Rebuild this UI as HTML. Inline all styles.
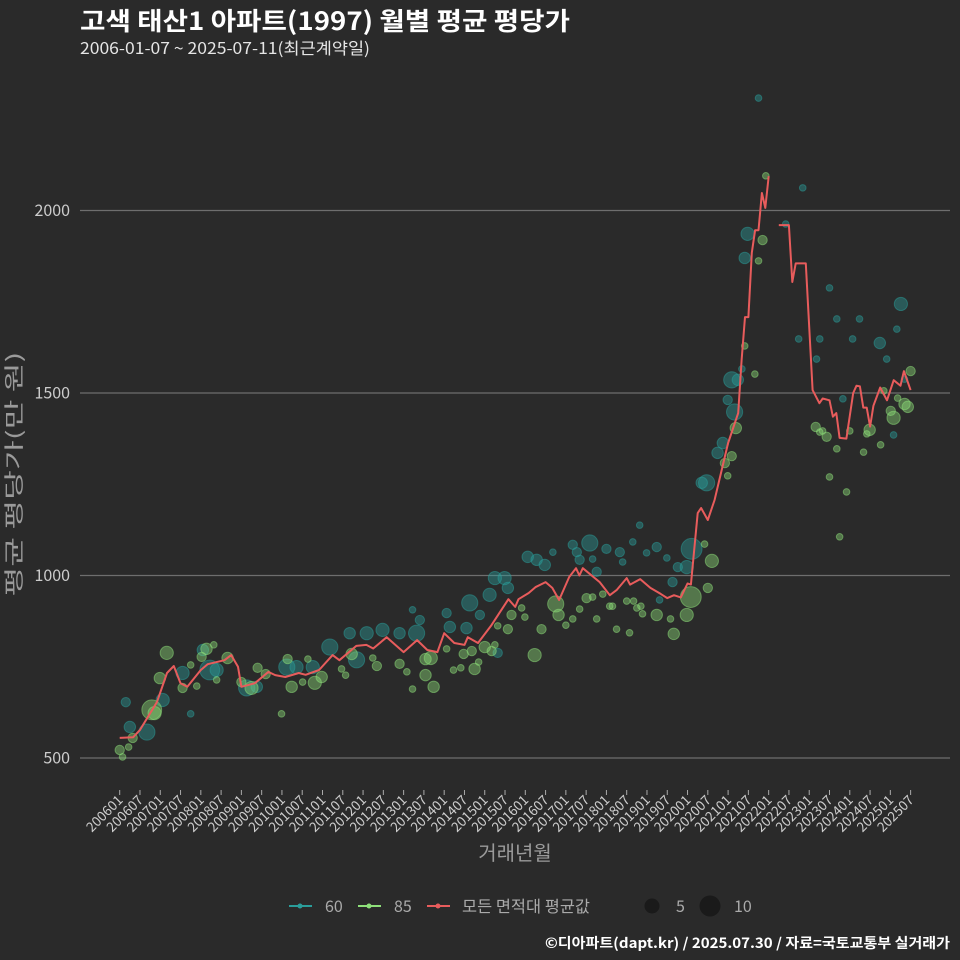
<!DOCTYPE html>
<html><head><meta charset="utf-8">
<style>
html,body{margin:0;padding:0;background:#2a2a2a;}
svg{display:block;font-family:"Noto Sans CJK KR","Liberation Sans",sans-serif;}
</style></head>
<body>
<svg id="chart" width="960" height="960" viewBox="0 0 960 960">
<rect x="0" y="0" width="960" height="960" fill="#2a2a2a"/>
<text x="80" y="30" fill="#ffffff" font-size="25" font-weight="bold" textLength="490" lengthAdjust="spacingAndGlyphs">고색 태산1 아파트(1997) 월별 평균 평당가</text>
<text x="80" y="54" fill="#e6e6e6" font-size="16" textLength="290" lengthAdjust="spacingAndGlyphs">2006-01-07 ~ 2025-07-11(최근계약일)</text>
<g id="grid"></g>
<g id="yaxis"></g>
<g id="xaxis"></g>
<g id="bubbles60"></g>
<g id="bubbles85"></g>
<g id="avgline"></g>
<text transform="translate(21,474) rotate(-90)" text-anchor="middle" fill="#9a9a9a" font-size="20" textLength="245" lengthAdjust="spacingAndGlyphs">평균 평당가(만 원)</text>
<text x="515" y="860" text-anchor="middle" fill="#9a9a9a" font-size="20">거래년월</text>
<g>
  <g>
    <line x1="289" y1="906" x2="312" y2="906" stroke="#2a9d9a" stroke-width="2"/>
    <circle cx="300" cy="906" r="2.5" fill="#2a9d9a"/>
    <text x="325" y="912" fill="#aaaaaa" font-size="16">60</text>
  </g>
  <g>
    <line x1="358" y1="906" x2="381" y2="906" stroke="#8ee07a" stroke-width="2"/>
    <circle cx="369" cy="906" r="2.5" fill="#8ee07a"/>
    <text x="394" y="912" fill="#aaaaaa" font-size="16">85</text>
  </g>
  <g>
    <line x1="427" y1="906" x2="450" y2="906" stroke="#e85c5c" stroke-width="2"/>
    <circle cx="438" cy="906" r="2.5" fill="#e85c5c"/>
    <text x="462" y="912" fill="#aaaaaa" font-size="16" textLength="128" lengthAdjust="spacingAndGlyphs">모든 면적대 평균값</text>
  </g>
  <g>
    <circle cx="652" cy="906" r="7.5" fill="#1a1a1a"/>
    <text x="676" y="912" fill="#aaaaaa" font-size="16">5</text>
  </g>
  <g>
    <circle cx="710" cy="906" r="10.5" fill="#1a1a1a"/>
    <text x="734" y="912" fill="#aaaaaa" font-size="16">10</text>
  </g>
</g>
<text x="545" y="948" fill="#ffffff" font-size="14" font-weight="bold" textLength="405" lengthAdjust="spacingAndGlyphs">©디아파트(dapt.kr) / 2025.07.30 / 자료=국토교통부 실거래가</text>
</svg>
<script>
const yTicks = [500, 1000, 1500, 2000];
const xTickLabels = [];
for (let y = 2006; y <= 2025; y++) { xTickLabels.push(y + "01"); xTickLabels.push(y + "07"); }

const lineMonths = ["2006-01","2006-05","2006-07","2006-12","2007-03","2007-05","2007-07","2007-09","2008-01","2008-03","2008-08","2008-10","2008-12","2009-01","2009-05","2009-09","2009-11","2010-02","2010-06","2010-08","2010-12","2011-04","2011-06","2011-11","2012-02","2012-04","2012-08","2013-01","2013-05","2013-08","2013-11","2014-01","2014-04","2014-07","2014-08","2014-11","2015-03","2015-08","2015-10","2015-11","2016-02","2016-04","2016-07","2016-09","2016-11","2017-02","2017-04","2017-05","2017-06","2017-11","2018-02","2018-04","2018-07","2018-08","2018-11","2019-02","2019-05","2019-07","2019-09","2019-11","2020-01","2020-02","2020-04","2020-05","2020-07","2020-09","2021-01","2021-04","2021-05","2021-06","2021-07","2021-08","2021-09","2021-10","2021-11","2021-12","2022-01","2022-02","2022-04","2022-07","2022-08","2022-09","2022-12","2023-02","2023-04","2023-05","2023-07","2023-08","2023-09","2023-10","2023-12","2024-02","2024-03","2024-04","2024-05","2024-06","2024-07","2024-08","2024-10","2024-12","2025-02","2025-04","2025-05","2025-07"];
const lineValues = [555,557,577,653,733,752,705,695,741,757,768,782,750,695,705,736,727,722,733,728,741,782,768,807,810,800,831,790,823,796,790,842,815,810,831,815,864,935,914,935,952,968,982,966,933,996,1020,1000,1020,982,946,960,993,975,990,966,950,938,946,940,978,975,1171,1185,1152,1207,1363,1445,1590,1708,1708,1884,1946,1946,2048,2007,2094,null,1960,1960,1804,1855,1855,1508,1472,1485,1480,1435,1445,1377,1375,1500,1520,1518,1460,1460,1408,1465,1515,1480,1535,1520,1560,1508];

const t60 = [2006.15,2006.25,2006.67,2007.06,2007.55,2008.05,2008.22,2008.39,2009.13,2009.38,2010.12,2010.36,2010.76,2011.18,2011.67,2011.84,2012.09,2012.48,2012.9,2013.32,2013.22,2007.75,2013.4,2014.06,2014.14,2014.55,2014.63,2014.88,2015.12,2015.25,2015.49,2015.57,2015.32,2016.06,2016.28,2016.48,2016.68,2017.17,2017.27,2017.34,2017.59,2017.66,2017.76,2018.0,2018.33,2018.4,2018.65,2018.82,2018.99,2019.24,2019.31,2019.49,2019.63,2019.76,2019.98,2020.1,2020.35,2020.47,2020.74,2020.87,2020.99,2021.16,2021.09,2021.24,2021.34,2021.41,2021.48,2021.75,2022.42,2022.84,2022.74,2023.18,2023.26,2023.5,2023.68,2023.83,2024.07,2024.24,2024.74,2024.91,2025.16,2025.26,2025.35,2025.08];
const v60 = [653,585,571,659,733,796,741,741,692,695,749,749,749,804,842,769,842,851,842,842,906,621,878,897,859,856,925,892,947,993,993,966,788,1051,1043,1029,1064,1084,1064,1043,1089,1045,1010,1073,1064,1037,1092,1138,1062,1078,933,1048,982,1023,1023,1073,1254,1254,1336,1363,1481,1448,1536,1536,1566,1870,1936,2308,1963,2062,1648,1593,1648,1788,1703,1484,1648,1703,1637,1593,1675,1744,1538,1385];
const n60 = [2,3,6,4,4,3,9,4,6,3,6,4,4,6,3,6,4,4,3,6,1,1,2,2,3,3,6,2,4,4,4,3,2,3,3,3,1,2,2,2,6,1,2,2,2,1,1,1,1,2,1,1,2,2,4,10,3,6,3,3,2,6,6,3,1,3,4,1,1,1,1,1,1,1,1,1,1,1,3,1,1,4,1,1];

const t85 = [2006.0,2006.07,2006.22,2006.32,2006.79,2006.86,2006.99,2007.16,2007.55,2007.75,2007.9,2008.02,2008.14,2008.32,2008.39,2008.66,2009.0,2009.25,2009.4,2009.6,2009.99,2010.14,2010.24,2010.51,2010.64,2010.81,2010.98,2011.47,2011.57,2011.72,2012.24,2012.34,2012.9,2013.08,2013.22,2013.54,2013.54,2013.67,2013.74,2014.06,2014.23,2014.41,2014.48,2014.68,2014.75,2014.85,2015.0,2015.17,2015.25,2015.32,2015.57,2015.66,2015.91,2015.99,2016.23,2016.4,2016.75,2016.82,2017.0,2017.17,2017.34,2017.51,2017.66,2017.76,2017.91,2018.08,2018.15,2018.25,2018.5,2018.57,2018.67,2018.75,2018.85,2018.89,2019.24,2019.58,2019.66,2019.98,2020.08,2020.42,2020.5,2020.6,2020.92,2020.99,2021.09,2021.19,2021.41,2021.66,2021.75,2021.85,2021.93,2023.16,2023.26,2023.33,2023.43,2023.68,2023.5,2023.75,2023.92,2024.0,2024.34,2024.42,2024.49,2024.76,2024.84,2025.01,2025.08,2025.18,2025.35,2025.43,2025.5];
const v85 = [522,503,530,555,632,623,719,788,692,755,697,777,799,810,714,774,708,692,747,730,621,771,695,708,771,706,722,744,727,785,774,752,758,736,689,771,727,774,695,799,741,747,785,793,744,763,804,793,810,862,853,892,911,886,782,853,922,892,864,881,908,938,941,881,949,916,916,853,930,843,930,911,916,895,892,881,840,892,941,1086,966,1040,1308,1273,1327,1404,1629,1552,1862,1919,2095,1407,1393,1396,1380,1347,1270,1106,1229,1396,1338,1388,1399,1358,1506,1451,1432,1486,1470,1462,1560];
const n85 = [2,1,1,2,9,4,3,4,2,1,1,2,3,1,1,3,2,4,2,2,1,2,3,1,1,4,3,1,1,3,1,2,2,1,1,3,3,4,3,1,1,1,2,2,3,1,3,2,1,1,2,2,1,1,4,2,6,3,1,1,1,2,1,1,1,1,1,1,1,1,1,1,1,1,3,1,3,4,10,1,2,4,2,1,2,3,1,1,1,2,1,2,1,1,2,1,1,1,1,1,1,1,3,1,1,2,4,1,3,3,2];

const NS = "http://www.w3.org/2000/svg";
const X0 = 119.7, PX_PER_YEAR = 40.56, PLOT_L = 80, PLOT_R = 950;
function xScale(t) { return X0 + (t - 2006) * PX_PER_YEAR; }
function yScale(v) { return 758 - (v - 500) * 0.365; }
function monthToT(s) { const p = s.split("-"); return +p[0] + (+p[1] - 1) / 12; }
function rScale(n) { return 3.3 * Math.sqrt(n); }
function mk(tag, attrs, parent) {
  const el = document.createElementNS(NS, tag);
  for (const k in attrs) el.setAttribute(k, attrs[k]);
  parent.appendChild(el);
  return el;
}

const grid = document.getElementById("grid");
const yaxis = document.getElementById("yaxis");
yTicks.forEach(v => {
  const ln = mk("line", {x1: PLOT_L, x2: PLOT_R, y1: yScale(v), y2: yScale(v), stroke: "#6e6e6e", "stroke-width": 1.2}, grid);
  
  
  const tx = mk("text", {x: 70, y: yScale(v) + 5.5, "text-anchor": "end", fill: "#cccccc", "font-size": 16}, yaxis);
  tx.textContent = v;
  
  
});

const xaxis = document.getElementById("xaxis");
xTickLabels.forEach(lbl => {
  const t = +lbl.slice(0, 4) + (+lbl.slice(4) - 1) / 12;
  const x = xScale(t);
  const tk = mk("line", {x1: x, x2: x, y1: 790, y2: 795, stroke: "#aaaaaa", "stroke-width": 1}, xaxis);
  
  
  const tx = mk("text", {x: 0, y: 0, "text-anchor": "end", fill: "#cccccc", "font-size": 13.5,
    transform: "translate(" + (x + 4) + ",801) rotate(-45)"}, xaxis);
  tx.textContent = lbl;
  
  
});

function drawBubbles(gid, ts, vs, ns, col, name) {
  const g = document.getElementById(gid);
  ts.forEach((t, i) => {
    const c = mk("circle", {cx: xScale(t), cy: yScale(vs[i]), r: rScale(ns[i]), fill: col, "fill-opacity": 0.42, stroke: col, "stroke-opacity": 0.5, "stroke-width": 1}, g);
    
    
  });
}
drawBubbles("bubbles60", t60, v60, n60, "#2a9d9a", "bubble-60");
drawBubbles("bubbles85", t85, v85, n85, "#8ee07a", "bubble-85");

const lg = document.getElementById("avgline");
let d = "", pen = false;
lineMonths.forEach((m, i) => {
  const v = lineValues[i];
  if (v === null) { pen = false; return; }
  d += (pen ? "L" : "M") + xScale(monthToT(m)).toFixed(1) + "," + yScale(v).toFixed(1);
  pen = true;
});
const path = mk("path", {d: d, fill: "none", stroke: "#e85c5c", "stroke-width": 2, "stroke-linejoin": "round"}, lg);


</script>
</body></html>
